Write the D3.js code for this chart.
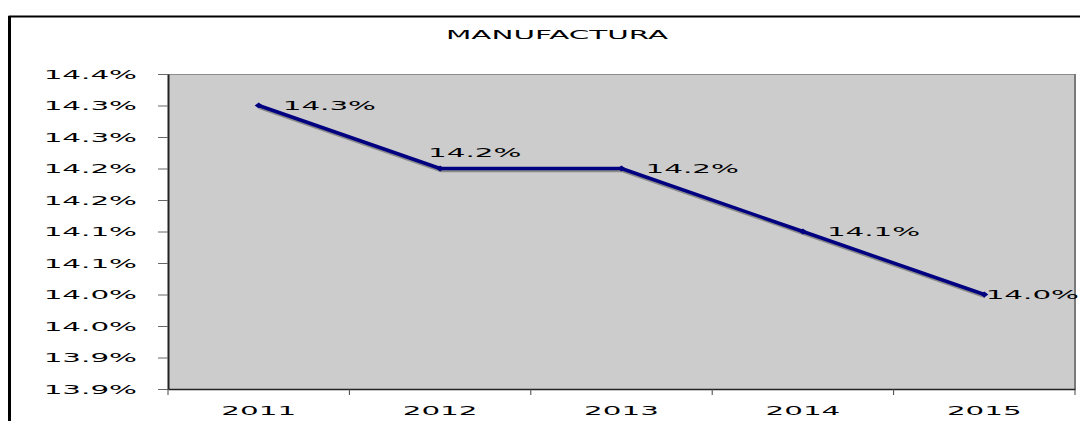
<!DOCTYPE html>
<html>
<head>
<meta charset="utf-8">
<script src="https://cdn.jsdelivr.net/npm/d3@7"></script>
<style>
  html, body { margin: 0; padding: 0; background: #ffffff; }
  svg { display: block; }
  text { font-family: "DejaVu Sans", Verdana, sans-serif; fill: #000; }
</style>
</head>
<body>
<script>
// Share of manufacturing, 2011–2015
const years = ["2011", "2012", "2013", "2014", "2015"];
const shares = [14.35, 14.25, 14.25, 14.15, 14.05];
const tickValues = [13.90, 13.95, 14.00, 14.05, 14.10, 14.15, 14.20, 14.25, 14.30, 14.35, 14.40];
const tickLabels = ["13.9%", "13.9%", "14.0%", "14.0%", "14.1%", "14.1%", "14.2%", "14.2%", "14.3%", "14.3%", "14.4%"];
const labelPlacement = ["right", "above", "right", "right", "right"];
const title = "MANUFACTURA";

const W = 1080, H = 421;
const sx = 2.45;            // wide, horizontally stretched lettering
const fontSize = 12;
const chartRight = 1079;    // keep data labels inside the frame

const svg = d3.select("body").append("svg").attr("width", W).attr("height", H);

const plot = { left: 168, right: 1075, top: 74, bottom: 389 };

const x = d3.scaleBand().domain(years).range([plot.left, plot.right]);
const y = d3.scaleLinear().domain([13.90, 14.40]).range([plot.bottom, plot.top]);
const cx = d => x(d) + x.bandwidth() / 2;

// same truncation the axis labels use
const fmt = v => (Math.floor(v * 10 + 1e-6) / 10).toFixed(1) + "%";

function stretched(parent, px, py, str, anchor, size) {
  return parent.append("text")
    .attr("transform", `translate(${px},${py}) scale(${sx},1)`)
    .attr("text-anchor", anchor || "start")
    .attr("font-size", size || fontSize)
    .text(str);
}

// chart frame
svg.append("path")
  .attr("d", `M9.5,${H} V16.5 H${W}`)
  .attr("fill", "none").attr("stroke", "#000").attr("stroke-width", 2);
svg.append("line")
  .attr("x1", 9.5).attr("x2", 9.5).attr("y1", 16).attr("y2", H)
  .attr("stroke", "#000").attr("stroke-width", 3);

// title
stretched(svg, 557, 39, title, "middle", 12);

// plot area
svg.append("rect")
  .attr("x", plot.left).attr("y", plot.top)
  .attr("width", plot.right - plot.left).attr("height", plot.bottom - plot.top)
  .attr("fill", "#cccccc");
svg.append("line")
  .attr("x1", plot.left).attr("x2", plot.right)
  .attr("y1", plot.top + 0.5).attr("y2", plot.top + 0.5)
  .attr("stroke", "#8c8c8c").attr("stroke-width", 1);
svg.append("line")
  .attr("x1", plot.right).attr("x2", plot.right)
  .attr("y1", plot.top).attr("y2", plot.bottom)
  .attr("stroke", "#7a7a7a").attr("stroke-width", 2);

// y axis
const yAxis = svg.append("g")
  .attr("transform", `translate(${plot.left},0)`)
  .call(d3.axisLeft(y)
    .tickValues(tickValues)
    .tickFormat((d, i) => tickLabels[i])
    .tickSize(10)
    .tickSizeOuter(0));
yAxis.select(".domain").attr("stroke", "#222").attr("stroke-width", 2);
yAxis.selectAll(".tick line").attr("stroke", "#666");
yAxis.selectAll(".tick text")
  .attr("font-family", null)
  .attr("font-size", fontSize)
  .attr("x", -31 / sx)
  .attr("dy", "0.37em")
  .attr("transform", `scale(${sx},1)`)
  .attr("fill", "#000");

// x axis
const xAxis = svg.append("g")
  .attr("transform", `translate(0,${plot.bottom})`)
  .call(d3.axisBottom(x).tickSize(0).tickSizeOuter(0));
xAxis.select(".domain").attr("stroke", "#222").attr("stroke-width", 1.5);
xAxis.selectAll(".tick text")
  .attr("font-family", null)
  .attr("font-size", fontSize)
  .attr("y", 0)
  .attr("dy", 26)
  .attr("transform", `scale(${sx},1)`)
  .attr("fill", "#000");
// band separators as tick marks below the axis
const edges = years.map(d => x(d)).concat([plot.right]);
xAxis.selectAll("line.sep").data(edges).enter().append("line")
  .attr("class", "sep")
  .attr("x1", d => d).attr("x2", d => d)
  .attr("y1", 0).attr("y2", 6)
  .attr("stroke", "#444").attr("stroke-width", 1);

// series
const pts = years.map((d, i) => [cx(d), y(shares[i])]);
const line = d3.line();

svg.append("path")
  .attr("d", line(pts))
  .attr("transform", "translate(1,2)")
  .attr("fill", "none").attr("stroke", "#8a8a8a").attr("stroke-width", 3.5)
  .attr("stroke-linejoin", "round");
svg.append("path")
  .attr("d", line(pts))
  .attr("fill", "none").attr("stroke", "#000080").attr("stroke-width", 3.5)
  .attr("stroke-linejoin", "round");

svg.selectAll("path.marker").data(pts).enter().append("path")
  .attr("class", "marker")
  .attr("d", p => `M${p[0] - 4},${p[1]} L${p[0]},${p[1] - 3} L${p[0] + 4},${p[1]} L${p[0]},${p[1] + 3} Z`)
  .attr("fill", "#000080");

// data labels
shares.forEach((v, i) => {
  const [px, py] = pts[i];
  let lx, ly;
  if (labelPlacement[i] === "above") {
    lx = px - 12; ly = py - 16 + 4.5;
  } else {
    lx = px + 24; ly = py + 4.5;
  }
  const t = stretched(svg, lx, ly, fmt(v), "start");
  const w = t.node().getComputedTextLength() * sx;
  if (lx + w > chartRight) {
    lx = chartRight - w;
    t.attr("transform", `translate(${lx},${ly}) scale(${sx},1)`);
  }
});
</script>
</body>
</html>
